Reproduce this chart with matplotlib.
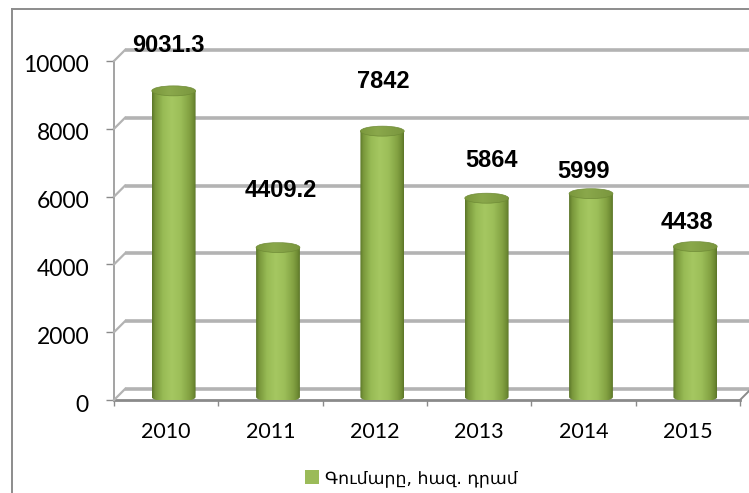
import numpy as np
import matplotlib
matplotlib.use('Agg')
import matplotlib.pyplot as plt
from matplotlib.transforms import ScaledTranslation, IdentityTransform
from matplotlib.patches import Ellipse, PathPatch
from matplotlib.path import Path
from matplotlib.lines import Line2D
from matplotlib.colors import LinearSegmentedColormap

# ---------------- data ----------------
years = ['2010', '2011', '2012', '2013', '2014', '2015']
values = [9031.3, 4409.2, 7842, 5864, 5999, 4438]
value_labels = ['9031.3', '4409.2', '7842', '5864', '5999', '4438']
y_ticks = [0, 2000, 4000, 6000, 8000, 10000]
legend_label = 'Գումարը, հազ. դրամ'

# label placement (pixels, relative to category centre / bar top on front plane)
label_dx = [2, 10.5, 8, 12.5, 0, -0.5]
label_rise = [48, 60, 53, 41, 25, 27]

# ---------------- figure ----------------
W, H = 749, 493
DPI = 100
fig = plt.figure(figsize=(W / DPI, H / DPI), dpi=DPI)
fig.patch.set_facecolor('white')

def fx(px):
    return px / W

def fy(py):
    return 1 - py / H

ax = fig.add_axes([fx(114), fy(400), (740 - 114) / W, (400 - 61) / H])
ax.set_autoscale_on(False)
ax.set_xlim(-0.5, len(years) - 0.5)
ax.set_ylim(0, 10000)
ax.patch.set_alpha(0)

grid_col = '#b3b3b3'
axis_col = '#8a8a8a'
depth = 11  # px, depth of the 3D walls

back = ax.transData + ScaledTranslation(depth / DPI, depth / DPI, fig.dpi_scale_trans)

# back-wall gridlines
for t in y_ticks:
    ax.plot([-0.5, len(years) + 0.5], [t, t], color=grid_col, lw=2.6,
            transform=back, clip_on=False, zorder=1, solid_capstyle='butt')
    p0 = ax.transData.transform((-0.5, t))
    fig.add_artist(Line2D([p0[0], p0[0] + depth], [p0[1], p0[1] + depth],
                          color=grid_col, lw=1.6, transform=IdentityTransform(),
                          zorder=1))
# right floor edge
p0 = ax.transData.transform((len(years) - 0.5, 0))
fig.add_artist(Line2D([p0[0], p0[0] + depth], [p0[1], p0[1] + depth],
                      color=axis_col, lw=1.4, transform=IdentityTransform(), zorder=1))

# outer chart border (display pixel coordinates)
fig.add_artist(Line2D([12, 12], [-5, H - 9], color='#8c8c8c', lw=1.4,
                      transform=IdentityTransform(), zorder=1))
fig.add_artist(Line2D([12, W + 5], [H - 9, H - 9], color='#8c8c8c', lw=1.4,
                      transform=IdentityTransform(), zorder=1))

# ---------------- cylinders ----------------
bar_w = 0.42
bar_trans = ax.transData + ScaledTranslation(7.5 / DPI, 3 / DPI, fig.dpi_scale_trans)
x = np.arange(len(years))
bars = ax.bar(x, values, width=bar_w, color='#9bbb59', label=legend_label,
              transform=bar_trans, zorder=3, linewidth=0)

body_cmap = LinearSegmentedColormap.from_list('body', [
    (0.0, '#5a7528'), (0.07, '#78963a'), (0.25, '#98bb55'), (0.45, '#a5c761'),
    (0.65, '#9cbe59'), (0.85, '#83a242'), (0.95, '#6e8a33'), (1.0, '#5a7427')])
top_cmap = LinearSegmentedColormap.from_list('top', [
    (0.0, '#7b983d'), (0.4, '#8aa84b'), (1.0, '#7a963e')])

grad = np.linspace(0, 1, 256)[None, :]
eh = 10.0  # ellipse height px
for rect in bars.patches:
    bb = rect.get_window_extent()
    x0, x1, yb, yt = bb.x0, bb.x1, bb.y0, bb.y1
    cx = (x0 + x1) / 2
    rx = (x1 - x0) / 2
    theta = np.linspace(np.pi, 2 * np.pi, 40)
    verts = [(x0, yt)] + [(cx + rx * np.cos(a), yb + eh / 2 * np.sin(a)) for a in theta] + [(x1, yt), (x0, yt)]
    codes = [Path.MOVETO] + [Path.LINETO] * (len(verts) - 2) + [Path.CLOSEPOLY]
    sil = PathPatch(Path(verts, codes), transform=IdentityTransform(),
                    facecolor='none', edgecolor='none')
    fig.add_artist(sil)
    rect.set_alpha(0)
    im = ax.imshow(grad, cmap=body_cmap, aspect='auto', interpolation='bilinear',
                   extent=(x0, x1, yb - eh, yt), transform=IdentityTransform(),
                   zorder=3.1)
    im.set_clip_path(sil)
    top = Ellipse((cx, yt), 2 * rx, eh, transform=IdentityTransform(),
                  facecolor='none', edgecolor='none')
    fig.add_artist(top)
    im2 = ax.imshow(grad, cmap=top_cmap, aspect='auto', interpolation='bilinear',
                    extent=(x0, x1, yt - eh / 2, yt + eh / 2),
                    transform=IdentityTransform(), zorder=3.2)
    im2.set_clip_path(top)
    fig.add_artist(Ellipse((cx, yt), 2 * rx, eh, transform=IdentityTransform(),
                           facecolor='none', edgecolor='#6f8b36', lw=0.5, zorder=3.3))

ax.set_xlim(-0.5, len(years) - 0.5)
ax.set_ylim(0, 10000)

# value labels
for i, (v, s) in enumerate(zip(values, value_labels)):
    ax.annotate(s, xy=(i, v), xytext=(label_dx[i], label_rise[i]),
                textcoords='offset pixels', ha='center', va='center',
                fontsize=17, fontweight='bold', family='Liberation Sans',
                color='black', zorder=5, annotation_clip=False)

# ---------------- axes styling ----------------
for s in ['top', 'right']:
    ax.spines[s].set_visible(False)
ax.spines['left'].set_color(axis_col)
ax.spines['left'].set_linewidth(1.1)
ax.spines['bottom'].set_color(axis_col)
ax.spines['bottom'].set_linewidth(2.0)
ax.spines['left'].set_zorder(2)
ax.spines['bottom'].set_zorder(2)

ax.set_yticks(y_ticks)
ax.set_yticklabels([str(t) for t in y_ticks])
ax.set_xticks(x)
ax.set_xticklabels(years)
ax.set_xticks(np.arange(len(years) + 1) - 0.5, minor=True)
ax.tick_params(axis='y', direction='out', length=6, width=1.0, color=axis_col,
               pad=12, labelsize=16.5)
ax.tick_params(axis='x', which='major', length=0, pad=16, labelsize=15.5)
ax.tick_params(axis='x', which='minor', direction='out', length=4, width=1.0,
               color=axis_col)
for lab in ax.get_xticklabels() + ax.get_yticklabels():
    lab.set_family('Lato')
off = ScaledTranslation(0, -3 / DPI, fig.dpi_scale_trans)
for lab in ax.get_yticklabels():
    lab.set_transform(lab.get_transform() + off)

# legend
leg = fig.legend(handles=[bars], labels=[legend_label], loc='center',
                 bbox_to_anchor=(fx(411), fy(478)), frameon=False,
                 prop={'family': 'DejaVu Sans', 'size': 12.5},
                 handlelength=0.85, handleheight=0.85, handletextpad=0.3)
for h in leg.legend_handles:
    h.set_alpha(1)
    h.set_facecolor('#9bbb59')

fig.savefig('out.png', dpi=DPI)
